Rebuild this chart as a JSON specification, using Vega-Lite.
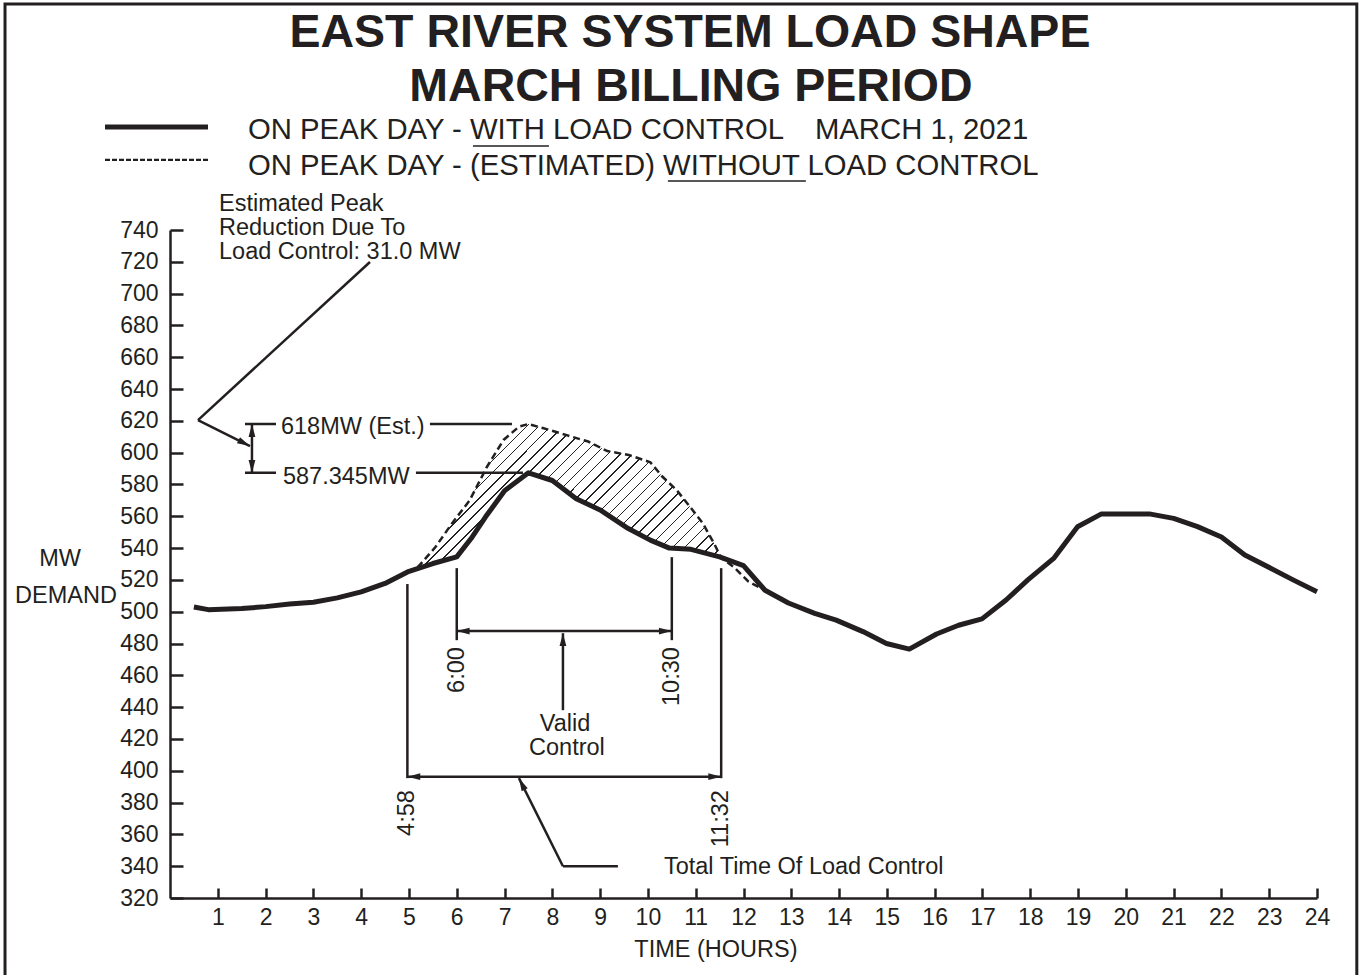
{
  "$schema": "https://vega.github.io/schema/vega-lite/v6.json",
  "width": 1147,
  "height": 668,
  "autosize": {"type": "none"},
  "padding": {"left": 170, "top": 230, "right": 48, "bottom": 77},
  "background": "white",
  "config": {
    "view": {"stroke": null},
    "font": "Liberation Sans",
    "text": {"font": "Liberation Sans", "color": "#231f20"},
    "axis": {
      "grid": false, "title": null, "format": "d",
      "domainColor": "#231f20", "domainWidth": 2.5,
      "tickColor": "#231f20", "tickWidth": 2.5,
      "labelFont": "Liberation Sans", "labelFontSize": 23, "labelColor": "#231f20",
      "labelFlush": false, "labelOverlap": false, "labelBound": false
    },
    "axisX": {"tickSize": -10, "labelPadding": 18},
    "axisY": {"tickSize": -13, "labelPadding": 25}
  },
  "datasets": {
    "load": [
      {"h": 0.5, "mw": 503}, {"h": 0.8, "mw": 501.3}, {"h": 1.5, "mw": 502}, {"h": 2, "mw": 503.2},
      {"h": 2.5, "mw": 504.8}, {"h": 3, "mw": 506}, {"h": 3.5, "mw": 508.7}, {"h": 4, "mw": 512.5},
      {"h": 4.5, "mw": 517.8}, {"h": 4.97, "mw": 525}, {"h": 5.5, "mw": 530.3}, {"h": 6.0, "mw": 534.5},
      {"h": 6.3, "mw": 546}, {"h": 6.6, "mw": 559.5}, {"h": 7.0, "mw": 576}, {"h": 7.5, "mw": 587.3},
      {"h": 8.0, "mw": 582.5}, {"h": 8.5, "mw": 571}, {"h": 9.0, "mw": 564}, {"h": 9.55, "mw": 553},
      {"h": 10.05, "mw": 545}, {"h": 10.45, "mw": 540}, {"h": 10.9, "mw": 539.2}, {"h": 11.5, "mw": 534.5},
      {"h": 12.0, "mw": 529}, {"h": 12.45, "mw": 513.5}, {"h": 12.94, "mw": 505.5}, {"h": 13.49, "mw": 499},
      {"h": 13.94, "mw": 494.7}, {"h": 14.5, "mw": 487.5}, {"h": 14.99, "mw": 480}, {"h": 15.47, "mw": 476.5},
      {"h": 16.04, "mw": 486}, {"h": 16.5, "mw": 491.5}, {"h": 16.99, "mw": 495.5}, {"h": 17.5, "mw": 507.5},
      {"h": 17.95, "mw": 520}, {"h": 18.49, "mw": 533.5}, {"h": 18.99, "mw": 553.4}, {"h": 19.49, "mw": 561.5},
      {"h": 20.49, "mw": 561.5}, {"h": 21.0, "mw": 558.7}, {"h": 21.5, "mw": 553.5}, {"h": 22.0, "mw": 547},
      {"h": 22.49, "mw": 535.6}, {"h": 23.04, "mw": 527.2}, {"h": 23.5, "mw": 520}, {"h": 24.0, "mw": 512.5}
    ],
    "est": [
      {"h": 4.97, "mw": 525}, {"h": 5.2, "mw": 528.5}, {"h": 5.55, "mw": 540.5}, {"h": 5.9, "mw": 555.5},
      {"h": 6.27, "mw": 570}, {"h": 6.63, "mw": 591}, {"h": 6.98, "mw": 608}, {"h": 7.3, "mw": 616.3},
      {"h": 7.5, "mw": 618}, {"h": 7.8, "mw": 615.5}, {"h": 8.3, "mw": 611}, {"h": 8.75, "mw": 607},
      {"h": 9.15, "mw": 601}, {"h": 9.6, "mw": 598.5}, {"h": 10.05, "mw": 594}, {"h": 10.3, "mw": 585},
      {"h": 10.6, "mw": 576.5}, {"h": 10.88, "mw": 566}, {"h": 11.15, "mw": 555.5}, {"h": 11.4, "mw": 542},
      {"h": 11.53, "mw": 534}, {"h": 11.8, "mw": 528}, {"h": 12.1, "mw": 519}, {"h": 12.45, "mw": 513.5}
    ],
    "band": [
      {"h": 4.97, "lo": 525, "hi": 525}, {"h": 5.2, "lo": 527.5, "hi": 528.5}, {"h": 5.55, "lo": 530.5, "hi": 540.5},
      {"h": 5.9, "lo": 534, "hi": 555.5}, {"h": 6.0, "lo": 535, "hi": 559}, {"h": 6.27, "lo": 546, "hi": 570},
      {"h": 6.63, "lo": 561.5, "hi": 591}, {"h": 6.98, "lo": 575, "hi": 608}, {"h": 7.3, "lo": 584, "hi": 616.3},
      {"h": 7.5, "lo": 587.3, "hi": 618}, {"h": 7.8, "lo": 585, "hi": 615.5}, {"h": 8.0, "lo": 582.5, "hi": 614},
      {"h": 8.3, "lo": 576, "hi": 611}, {"h": 8.75, "lo": 567, "hi": 607}, {"h": 9.15, "lo": 561, "hi": 601},
      {"h": 9.6, "lo": 552.5, "hi": 598.5}, {"h": 10.05, "lo": 545, "hi": 594}, {"h": 10.3, "lo": 541.5, "hi": 585},
      {"h": 10.6, "lo": 539.8, "hi": 576.5}, {"h": 10.88, "lo": 539.2, "hi": 566}, {"h": 11.15, "lo": 537.5, "hi": 555.5},
      {"h": 11.4, "lo": 535, "hi": 542}, {"h": 11.53, "lo": 534, "hi": 534}
    ],
    "segs": [
      {"h": 4.184, "m": 719.87, "h2": 0.586, "m2": 620.5},
      {"h": 0.586, "m": 620.5, "h2": 1.674, "m2": 604.15},
      {"h": 1.569, "m": 618, "h2": 2.218, "m2": 618},
      {"h": 1.569, "m": 587.3, "h2": 2.218, "m2": 587.3},
      {"h": 1.715, "m": 618, "h2": 1.715, "m2": 587.3},
      {"h": 5.439, "m": 618, "h2": 7.155, "m2": 618},
      {"h": 5.146, "m": 587.3, "h2": 7.385, "m2": 587.3},
      {"h": 4.967, "m": 517.4, "h2": 4.967, "m2": 395.35},
      {"h": 6.0, "m": 527.4, "h2": 6.0, "m2": 482.1},
      {"h": 10.5, "m": 534.3, "h2": 10.5, "m2": 482.1},
      {"h": 11.533, "m": 527.4, "h2": 11.533, "m2": 395.35},
      {"h": 6.0, "m": 487.8, "h2": 10.5, "m2": 487.8},
      {"h": 8.222, "m": 486.5, "h2": 8.222, "m2": 438.1},
      {"h": 4.967, "m": 396.3, "h2": 11.533, "m2": 396.3},
      {"h": 7.301, "m": 395.35, "h2": 8.222, "m2": 340},
      {"h": 8.222, "m": 340, "h2": 9.372, "m2": 340}
    ],
    "underlines": [
      {"h": 6.339, "m": 792.83, "h2": 7.929, "m2": 792.83},
      {"h": 10.418, "m": 770.82, "h2": 13.305, "m2": 770.82}
    ],
    "arrows": [
      {"h": 1.674, "m": 604.15, "dir": "lead1"},
      {"h": 1.715, "m": 618, "dir": "up"},
      {"h": 1.715, "m": 587.3, "dir": "down"},
      {"h": 8.222, "m": 486.5, "dir": "up"},
      {"h": 6.0, "m": 487.8, "dir": "left"},
      {"h": 10.5, "m": 487.8, "dir": "right"},
      {"h": 4.967, "m": 396.3, "dir": "left"},
      {"h": 11.533, "m": 396.3, "dir": "right"},
      {"h": 7.301, "m": 395.35, "dir": "lead2"}
    ],
    "titles": [
      {"h": 10.879, "m": 855.09, "label": "EAST RIVER SYSTEM LOAD SHAPE"},
      {"h": 10.9, "m": 821.13, "label": "MARCH BILLING PERIOD"}
    ],
    "legendtext": [
      {"h": 1.632, "m": 797.23, "label": "ON PEAK DAY - WITH LOAD CONTROL"},
      {"h": 13.494, "m": 797.23, "label": "MARCH 1, 2021"},
      {"h": 1.632, "m": 774.59, "label": "ON PEAK DAY - (ESTIMATED) WITHOUT LOAD CONTROL"}
    ],
    "lefttext": [
      {"h": 1.025, "m": 751.95, "label": "Estimated Peak"},
      {"h": 1.025, "m": 736.86, "label": "Reduction Due To"},
      {"h": 1.025, "m": 721.76, "label": "Load Control: 31.0 MW"},
      {"h": 2.322, "m": 611.7, "label": "618MW (Est.)"},
      {"h": 2.364, "m": 580.25, "label": "587.345MW"},
      {"h": 10.335, "m": 334.97, "label": "Total Time Of Load Control"}
    ],
    "centertext": [
      {"h": 8.264, "m": 424.9, "label": "Valid"},
      {"h": 8.305, "m": 409.8, "label": "Control"},
      {"h": -2.301, "m": 528.68, "label": "MW"},
      {"h": -2.176, "m": 505.41, "label": "DEMAND"},
      {"h": 11.423, "m": 282.77, "label": "TIME (HOURS)"}
    ],
    "rottext": [
      {"h": 4.967, "m": 387.8, "label": "4:58"},
      {"h": 11.533, "m": 387.8, "label": "11:32"},
      {"h": 6.0, "m": 477.7, "label": "6:00"},
      {"h": 10.5, "m": 477.7, "label": "10:30"}
    ]
  },
  "layer": [
    {
      "data": {"name": "band"},
      "mark": {
        "type": "area",
        "strokeWidth": 0,
        "fill": {
          "gradient": "linear", "x1": 0, "y1": 0, "x2": 1.2038, "y2": 0.5677,
          "stops": [
            {"offset": 0, "color": "#fff"},
            {"offset": 0.02472, "color": "#fff"}, {"offset": 0.02472, "color": "#222"}, {"offset": 0.02792, "color": "#222"}, {"offset": 0.02792, "color": "#fff"},
            {"offset": 0.05103, "color": "#fff"}, {"offset": 0.05103, "color": "#222"}, {"offset": 0.05423, "color": "#222"}, {"offset": 0.05423, "color": "#fff"},
            {"offset": 0.07735, "color": "#fff"}, {"offset": 0.07735, "color": "#222"}, {"offset": 0.08055, "color": "#222"}, {"offset": 0.08055, "color": "#fff"},
            {"offset": 0.10366, "color": "#fff"}, {"offset": 0.10366, "color": "#222"}, {"offset": 0.10686, "color": "#222"}, {"offset": 0.10686, "color": "#fff"},
            {"offset": 0.12998, "color": "#fff"}, {"offset": 0.12998, "color": "#222"}, {"offset": 0.13318, "color": "#222"}, {"offset": 0.13318, "color": "#fff"},
            {"offset": 0.15629, "color": "#fff"}, {"offset": 0.15629, "color": "#222"}, {"offset": 0.15949, "color": "#222"}, {"offset": 0.15949, "color": "#fff"},
            {"offset": 0.18261, "color": "#fff"}, {"offset": 0.18261, "color": "#222"}, {"offset": 0.18581, "color": "#222"}, {"offset": 0.18581, "color": "#fff"},
            {"offset": 0.20893, "color": "#fff"}, {"offset": 0.20893, "color": "#222"}, {"offset": 0.21213, "color": "#222"}, {"offset": 0.21213, "color": "#fff"},
            {"offset": 0.23524, "color": "#fff"}, {"offset": 0.23524, "color": "#222"}, {"offset": 0.23844, "color": "#222"}, {"offset": 0.23844, "color": "#fff"},
            {"offset": 0.26156, "color": "#fff"}, {"offset": 0.26156, "color": "#222"}, {"offset": 0.26476, "color": "#222"}, {"offset": 0.26476, "color": "#fff"},
            {"offset": 0.28787, "color": "#fff"}, {"offset": 0.28787, "color": "#222"}, {"offset": 0.29107, "color": "#222"}, {"offset": 0.29107, "color": "#fff"},
            {"offset": 0.31419, "color": "#fff"}, {"offset": 0.31419, "color": "#222"}, {"offset": 0.31739, "color": "#222"}, {"offset": 0.31739, "color": "#fff"},
            {"offset": 0.34051, "color": "#fff"}, {"offset": 0.34051, "color": "#222"}, {"offset": 0.34371, "color": "#222"}, {"offset": 0.34371, "color": "#fff"},
            {"offset": 0.36682, "color": "#fff"}, {"offset": 0.36682, "color": "#222"}, {"offset": 0.37002, "color": "#222"}, {"offset": 0.37002, "color": "#fff"},
            {"offset": 0.39314, "color": "#fff"}, {"offset": 0.39314, "color": "#222"}, {"offset": 0.39634, "color": "#222"}, {"offset": 0.39634, "color": "#fff"},
            {"offset": 0.41945, "color": "#fff"}, {"offset": 0.41945, "color": "#222"}, {"offset": 0.42265, "color": "#222"}, {"offset": 0.42265, "color": "#fff"},
            {"offset": 0.44577, "color": "#fff"}, {"offset": 0.44577, "color": "#222"}, {"offset": 0.44897, "color": "#222"}, {"offset": 0.44897, "color": "#fff"},
            {"offset": 0.47208, "color": "#fff"}, {"offset": 0.47208, "color": "#222"}, {"offset": 0.47528, "color": "#222"}, {"offset": 0.47528, "color": "#fff"},
            {"offset": 0.4984, "color": "#fff"}, {"offset": 0.4984, "color": "#222"}, {"offset": 0.5016, "color": "#222"}, {"offset": 0.5016, "color": "#fff"},
            {"offset": 0.52472, "color": "#fff"}, {"offset": 0.52472, "color": "#222"}, {"offset": 0.52792, "color": "#222"}, {"offset": 0.52792, "color": "#fff"},
            {"offset": 0.55103, "color": "#fff"}, {"offset": 0.55103, "color": "#222"}, {"offset": 0.55423, "color": "#222"}, {"offset": 0.55423, "color": "#fff"},
            {"offset": 0.57735, "color": "#fff"}, {"offset": 0.57735, "color": "#222"}, {"offset": 0.58055, "color": "#222"}, {"offset": 0.58055, "color": "#fff"},
            {"offset": 0.60366, "color": "#fff"}, {"offset": 0.60366, "color": "#222"}, {"offset": 0.60686, "color": "#222"}, {"offset": 0.60686, "color": "#fff"},
            {"offset": 0.62998, "color": "#fff"}, {"offset": 0.62998, "color": "#222"}, {"offset": 0.63318, "color": "#222"}, {"offset": 0.63318, "color": "#fff"},
            {"offset": 0.65629, "color": "#fff"}, {"offset": 0.65629, "color": "#222"}, {"offset": 0.65949, "color": "#222"}, {"offset": 0.65949, "color": "#fff"},
            {"offset": 0.68261, "color": "#fff"}, {"offset": 0.68261, "color": "#222"}, {"offset": 0.68581, "color": "#222"}, {"offset": 0.68581, "color": "#fff"},
            {"offset": 0.70893, "color": "#fff"}, {"offset": 0.70893, "color": "#222"}, {"offset": 0.71213, "color": "#222"}, {"offset": 0.71213, "color": "#fff"},
            {"offset": 0.73524, "color": "#fff"}, {"offset": 0.73524, "color": "#222"}, {"offset": 0.73844, "color": "#222"}, {"offset": 0.73844, "color": "#fff"},
            {"offset": 0.76156, "color": "#fff"}, {"offset": 0.76156, "color": "#222"}, {"offset": 0.76476, "color": "#222"}, {"offset": 0.76476, "color": "#fff"},
            {"offset": 0.78787, "color": "#fff"}, {"offset": 0.78787, "color": "#222"}, {"offset": 0.79107, "color": "#222"}, {"offset": 0.79107, "color": "#fff"},
            {"offset": 0.81419, "color": "#fff"}, {"offset": 0.81419, "color": "#222"}, {"offset": 0.81739, "color": "#222"}, {"offset": 0.81739, "color": "#fff"},
            {"offset": 0.84051, "color": "#fff"}, {"offset": 0.84051, "color": "#222"}, {"offset": 0.84371, "color": "#222"}, {"offset": 0.84371, "color": "#fff"},
            {"offset": 0.86682, "color": "#fff"}, {"offset": 0.86682, "color": "#222"}, {"offset": 0.87002, "color": "#222"}, {"offset": 0.87002, "color": "#fff"},
            {"offset": 0.89314, "color": "#fff"}, {"offset": 0.89314, "color": "#222"}, {"offset": 0.89634, "color": "#222"}, {"offset": 0.89634, "color": "#fff"},
            {"offset": 0.91945, "color": "#fff"}, {"offset": 0.91945, "color": "#222"}, {"offset": 0.92265, "color": "#222"}, {"offset": 0.92265, "color": "#fff"},
            {"offset": 0.94577, "color": "#fff"}, {"offset": 0.94577, "color": "#222"}, {"offset": 0.94897, "color": "#222"}, {"offset": 0.94897, "color": "#fff"},
            {"offset": 0.97208, "color": "#fff"}, {"offset": 0.97208, "color": "#222"}, {"offset": 0.97528, "color": "#222"}, {"offset": 0.97528, "color": "#fff"},
            {"offset": 1, "color": "#fff"}
          ]
        }
      },
      "encoding": {
        "x": {
          "field": "h", "type": "quantitative", "title": null,
          "scale": {"domain": [0, 24], "nice": false, "zero": false},
          "axis": {"values": [1,2,3,4,5,6,7,8,9,10,11,12,13,14,15,16,17,18,19,20,21,22,23,24], "labelOverlap": false}
        },
        "y": {
          "field": "hi", "type": "quantitative", "title": null,
          "scale": {"domain": [320, 740], "nice": false, "zero": false},
          "axis": {"values": [320,340,360,380,400,420,440,460,480,500,520,540,560,580,600,620,640,660,680,700,720,740], "labelOverlap": false}
        },
        "y2": {"field": "lo"}
      }
    },
    {
      "data": {"values": [{}]},
      "mark": {"type": "rect", "filled": false, "stroke": "#231f20", "strokeWidth": 3},
      "encoding": {
        "x": {"datum": -3.452, "type": "quantitative", "title": null, "axis": {"values": [1,2,3,4,5,6,7,8,9,10,11,12,13,14,15,16,17,18,19,20,21,22,23,24], "labelOverlap": false}},
        "x2": {"datum": 24.833},
        "y": {"datum": 882.14, "type": "quantitative", "title": null, "axis": {"values": [320,340,360,380,400,420,440,460,480,500,520,540,560,580,600,620,640,660,680,700,720,740], "labelOverlap": false}},
        "y2": {"datum": 255.7}
      }
    },
    {
      "data": {"name": "est"},
      "mark": {"type": "line", "color": "#231f20", "strokeWidth": 2.5, "strokeDash": [7, 4]},
      "encoding": {
        "x": {"field": "h", "type": "quantitative", "title": null, "axis": {"values": [1,2,3,4,5,6,7,8,9,10,11,12,13,14,15,16,17,18,19,20,21,22,23,24], "labelOverlap": false}},
        "y": {"field": "mw", "type": "quantitative", "title": null, "axis": {"values": [320,340,360,380,400,420,440,460,480,500,520,540,560,580,600,620,640,660,680,700,720,740], "labelOverlap": false}}
      }
    },
    {
      "data": {"name": "load"},
      "mark": {"type": "line", "color": "#231f20", "strokeWidth": 5, "strokeJoin": "round"},
      "encoding": {
        "x": {"field": "h", "type": "quantitative", "title": null, "axis": {"values": [1,2,3,4,5,6,7,8,9,10,11,12,13,14,15,16,17,18,19,20,21,22,23,24], "labelOverlap": false}},
        "y": {"field": "mw", "type": "quantitative", "title": null, "axis": {"values": [320,340,360,380,400,420,440,460,480,500,520,540,560,580,600,620,640,660,680,700,720,740], "labelOverlap": false}}
      }
    },
    {
      "data": {"name": "segs"},
      "mark": {"type": "rule", "color": "#231f20", "strokeWidth": 2.5},
      "encoding": {
        "x": {"field": "h", "type": "quantitative", "title": null, "axis": {"values": [1,2,3,4,5,6,7,8,9,10,11,12,13,14,15,16,17,18,19,20,21,22,23,24], "labelOverlap": false}},
        "y": {"field": "m", "type": "quantitative", "title": null, "axis": {"values": [320,340,360,380,400,420,440,460,480,500,520,540,560,580,600,620,640,660,680,700,720,740], "labelOverlap": false}},
        "x2": {"field": "h2"},
        "y2": {"field": "m2"}
      }
    },
    {
      "data": {"name": "underlines"},
      "mark": {"type": "rule", "color": "#231f20", "strokeWidth": 1.5},
      "encoding": {
        "x": {"field": "h", "type": "quantitative", "title": null, "axis": {"values": [1,2,3,4,5,6,7,8,9,10,11,12,13,14,15,16,17,18,19,20,21,22,23,24], "labelOverlap": false}},
        "y": {"field": "m", "type": "quantitative", "title": null, "axis": {"values": [320,340,360,380,400,420,440,460,480,500,520,540,560,580,600,620,640,660,680,700,720,740], "labelOverlap": false}},
        "x2": {"field": "h2"},
        "y2": {"field": "m2"}
      }
    },
    {
      "data": {"values": [{}]},
      "mark": {"type": "rule", "color": "#231f20", "strokeWidth": 5},
      "encoding": {
        "x": {"datum": -1.36, "type": "quantitative", "title": null, "axis": {"values": [1,2,3,4,5,6,7,8,9,10,11,12,13,14,15,16,17,18,19,20,21,22,23,24], "labelOverlap": false}},
        "x2": {"datum": 0.795},
        "y": {"datum": 804.78, "type": "quantitative", "title": null, "axis": {"values": [320,340,360,380,400,420,440,460,480,500,520,540,560,580,600,620,640,660,680,700,720,740], "labelOverlap": false}}
      }
    },
    {
      "data": {"values": [{}]},
      "mark": {"type": "rule", "color": "#231f20", "strokeWidth": 2.2, "strokeDash": [5, 2]},
      "encoding": {
        "x": {"datum": -1.36, "type": "quantitative", "title": null, "axis": {"values": [1,2,3,4,5,6,7,8,9,10,11,12,13,14,15,16,17,18,19,20,21,22,23,24], "labelOverlap": false}},
        "x2": {"datum": 0.795},
        "y": {"datum": 784.03, "type": "quantitative", "title": null, "axis": {"values": [320,340,360,380,400,420,440,460,480,500,520,540,560,580,600,620,640,660,680,700,720,740], "labelOverlap": false}}
      }
    },
    {
      "data": {"name": "arrows"},
      "transform": [{"filter": "datum.dir == 'up'"}],
      "mark": {"type": "point", "shape": "M0,0L0.42,1.6L-0.42,1.6Z", "filled": true, "color": "#231f20", "size": 260, "angle": 0, "opacity": 1},
      "encoding": {
        "x": {"field": "h", "type": "quantitative", "title": null, "axis": {"values": [1,2,3,4,5,6,7,8,9,10,11,12,13,14,15,16,17,18,19,20,21,22,23,24], "labelOverlap": false}},
        "y": {"field": "m", "type": "quantitative", "title": null, "axis": {"values": [320,340,360,380,400,420,440,460,480,500,520,540,560,580,600,620,640,660,680,700,720,740], "labelOverlap": false}}
      }
    },
    {
      "data": {"name": "arrows"},
      "transform": [{"filter": "datum.dir == 'down'"}],
      "mark": {"type": "point", "shape": "M0,0L0.42,1.6L-0.42,1.6Z", "filled": true, "color": "#231f20", "size": 260, "angle": 180, "opacity": 1},
      "encoding": {
        "x": {"field": "h", "type": "quantitative", "title": null, "axis": {"values": [1,2,3,4,5,6,7,8,9,10,11,12,13,14,15,16,17,18,19,20,21,22,23,24], "labelOverlap": false}},
        "y": {"field": "m", "type": "quantitative", "title": null, "axis": {"values": [320,340,360,380,400,420,440,460,480,500,520,540,560,580,600,620,640,660,680,700,720,740], "labelOverlap": false}}
      }
    },
    {
      "data": {"name": "arrows"},
      "transform": [{"filter": "datum.dir == 'left'"}],
      "mark": {"type": "point", "shape": "M0,0L0.42,1.6L-0.42,1.6Z", "filled": true, "color": "#231f20", "size": 260, "angle": 270, "opacity": 1},
      "encoding": {
        "x": {"field": "h", "type": "quantitative", "title": null, "axis": {"values": [1,2,3,4,5,6,7,8,9,10,11,12,13,14,15,16,17,18,19,20,21,22,23,24], "labelOverlap": false}},
        "y": {"field": "m", "type": "quantitative", "title": null, "axis": {"values": [320,340,360,380,400,420,440,460,480,500,520,540,560,580,600,620,640,660,680,700,720,740], "labelOverlap": false}}
      }
    },
    {
      "data": {"name": "arrows"},
      "transform": [{"filter": "datum.dir == 'right'"}],
      "mark": {"type": "point", "shape": "M0,0L0.42,1.6L-0.42,1.6Z", "filled": true, "color": "#231f20", "size": 260, "angle": 90, "opacity": 1},
      "encoding": {
        "x": {"field": "h", "type": "quantitative", "title": null, "axis": {"values": [1,2,3,4,5,6,7,8,9,10,11,12,13,14,15,16,17,18,19,20,21,22,23,24], "labelOverlap": false}},
        "y": {"field": "m", "type": "quantitative", "title": null, "axis": {"values": [320,340,360,380,400,420,440,460,480,500,520,540,560,580,600,620,640,660,680,700,720,740], "labelOverlap": false}}
      }
    },
    {
      "data": {"name": "arrows"},
      "transform": [{"filter": "datum.dir == 'lead1'"}],
      "mark": {"type": "point", "shape": "M0,0L0.42,1.6L-0.42,1.6Z", "filled": true, "color": "#231f20", "size": 260, "angle": 116.6, "opacity": 1},
      "encoding": {
        "x": {"field": "h", "type": "quantitative", "title": null, "axis": {"values": [1,2,3,4,5,6,7,8,9,10,11,12,13,14,15,16,17,18,19,20,21,22,23,24], "labelOverlap": false}},
        "y": {"field": "m", "type": "quantitative", "title": null, "axis": {"values": [320,340,360,380,400,420,440,460,480,500,520,540,560,580,600,620,640,660,680,700,720,740], "labelOverlap": false}}
      }
    },
    {
      "data": {"name": "arrows"},
      "transform": [{"filter": "datum.dir == 'lead2'"}],
      "mark": {"type": "point", "shape": "M0,0L0.42,1.6L-0.42,1.6Z", "filled": true, "color": "#231f20", "size": 260, "angle": 333.4, "opacity": 1},
      "encoding": {
        "x": {"field": "h", "type": "quantitative", "title": null, "axis": {"values": [1,2,3,4,5,6,7,8,9,10,11,12,13,14,15,16,17,18,19,20,21,22,23,24], "labelOverlap": false}},
        "y": {"field": "m", "type": "quantitative", "title": null, "axis": {"values": [320,340,360,380,400,420,440,460,480,500,520,540,560,580,600,620,640,660,680,700,720,740], "labelOverlap": false}}
      }
    },
    {
      "data": {"name": "titles"},
      "mark": {"type": "text", "align": "center", "baseline": "alphabetic", "fontSize": 46.5, "fontWeight": "bold", "font": "Liberation Sans", "color": "#231f20"},
      "encoding": {
        "x": {"field": "h", "type": "quantitative", "title": null, "axis": {"values": [1,2,3,4,5,6,7,8,9,10,11,12,13,14,15,16,17,18,19,20,21,22,23,24], "labelOverlap": false}},
        "y": {"field": "m", "type": "quantitative", "title": null, "axis": {"values": [320,340,360,380,400,420,440,460,480,500,520,540,560,580,600,620,640,660,680,700,720,740], "labelOverlap": false}},
        "text": {"field": "label"}
      }
    },
    {
      "data": {"name": "legendtext"},
      "mark": {"type": "text", "align": "left", "baseline": "alphabetic", "fontSize": 29.3, "font": "Liberation Sans", "color": "#231f20"},
      "encoding": {
        "x": {"field": "h", "type": "quantitative", "title": null, "axis": {"values": [1,2,3,4,5,6,7,8,9,10,11,12,13,14,15,16,17,18,19,20,21,22,23,24], "labelOverlap": false}},
        "y": {"field": "m", "type": "quantitative", "title": null, "axis": {"values": [320,340,360,380,400,420,440,460,480,500,520,540,560,580,600,620,640,660,680,700,720,740], "labelOverlap": false}},
        "text": {"field": "label"}
      }
    },
    {
      "data": {"name": "lefttext"},
      "mark": {"type": "text", "align": "left", "baseline": "alphabetic", "fontSize": 23.5, "font": "Liberation Sans", "color": "#231f20"},
      "encoding": {
        "x": {"field": "h", "type": "quantitative", "title": null, "axis": {"values": [1,2,3,4,5,6,7,8,9,10,11,12,13,14,15,16,17,18,19,20,21,22,23,24], "labelOverlap": false}},
        "y": {"field": "m", "type": "quantitative", "title": null, "axis": {"values": [320,340,360,380,400,420,440,460,480,500,520,540,560,580,600,620,640,660,680,700,720,740], "labelOverlap": false}},
        "text": {"field": "label"}
      }
    },
    {
      "data": {"name": "centertext"},
      "mark": {"type": "text", "align": "center", "baseline": "alphabetic", "fontSize": 23.5, "font": "Liberation Sans", "color": "#231f20"},
      "encoding": {
        "x": {"field": "h", "type": "quantitative", "title": null, "axis": {"values": [1,2,3,4,5,6,7,8,9,10,11,12,13,14,15,16,17,18,19,20,21,22,23,24], "labelOverlap": false}},
        "y": {"field": "m", "type": "quantitative", "title": null, "axis": {"values": [320,340,360,380,400,420,440,460,480,500,520,540,560,580,600,620,640,660,680,700,720,740], "labelOverlap": false}},
        "text": {"field": "label"}
      }
    },
    {
      "data": {"name": "rottext"},
      "mark": {"type": "text", "align": "right", "baseline": "middle", "angle": 270, "fontSize": 23.5, "font": "Liberation Sans", "color": "#231f20"},
      "encoding": {
        "x": {"field": "h", "type": "quantitative", "title": null, "axis": {"values": [1,2,3,4,5,6,7,8,9,10,11,12,13,14,15,16,17,18,19,20,21,22,23,24], "labelOverlap": false}},
        "y": {"field": "m", "type": "quantitative", "title": null, "axis": {"values": [320,340,360,380,400,420,440,460,480,500,520,540,560,580,600,620,640,660,680,700,720,740], "labelOverlap": false}},
        "text": {"field": "label"}
      }
    }
  ]
}
